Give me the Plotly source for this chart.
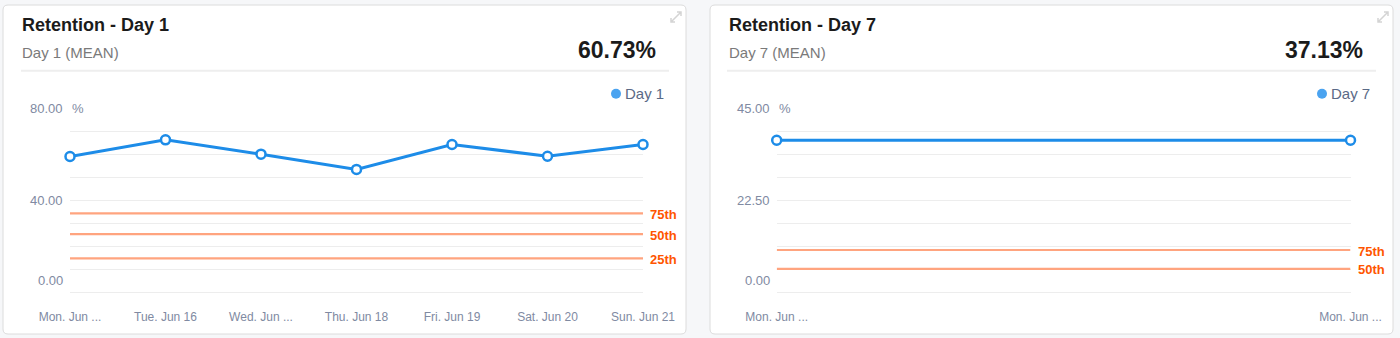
import plotly.graph_objects as go

# ---- data -------------------------------------------------------------
day1_labels = ["Mon. Jun ...", "Tue. Jun 16", "Wed. Jun ...", "Thu. Jun 18",
               "Fri. Jun 19", "Sat. Jun 20", "Sun. Jun 21"]
day1_values = [59.0, 66.2, 60.0, 53.4, 64.2, 59.1, 64.2]
day1_mean = "60.73%"
day1_pct_names = ["75th", "50th", "25th"]
day1_pct_values = [34.4, 25.4, 14.9]
day1_yticks = [0, 40, 80]
day1_yticktext = ["0.00", "40.00", "80.00"]

day7_labels = ["Mon. Jun ...", "Mon. Jun ..."]
day7_values = [37.13, 37.13]
day7_mean = "37.13%"
day7_pct_names = ["75th", "50th"]
day7_pct_values = [10.4, 5.8]
day7_yticks = [0, 22.5, 45]
day7_yticktext = ["0.00", "22.50", "45.00"]

W, H = 1400, 338
FONT = "Liberation Sans, Arial, Helvetica, sans-serif"
LINE_BLUE = "#1d8ce8"
DOT_BLUE = "#4aa3f0"
PCT_LINE = "#ffa47f"
PCT_TEXT = "#ff5500"
GRID = "#ededed"
TICK = "#808aa2"


def px(x):
    return x / W


def py(y):
    return 1 - y / H


def rounded_rect(x0, y0, x1, y1, r):
    X0, X1 = px(x0), px(x1)
    Y0, Y1 = py(y0), py(y1)
    rx, ry = r / W, r / H
    return (f"M{X0+rx},{Y0} L{X1-rx},{Y0} Q{X1},{Y0} {X1},{Y0-ry} "
            f"L{X1},{Y1+ry} Q{X1},{Y1} {X1-rx},{Y1} L{X0+rx},{Y1} "
            f"Q{X0},{Y1} {X0},{Y1+ry} L{X0},{Y0-ry} Q{X0},{Y0} {X0+rx},{Y0} Z")


fig = go.Figure()
shapes = []
annotations = []

panels = [
    dict(card=(3, 5, 686, 334), dom=(70, 643), title="Retention - Day 1",
         sub="Day 1 (MEAN)", mean=day1_mean, name="Day 1",
         labels=day1_labels, values=day1_values, pnames=day1_pct_names,
         pvals=day1_pct_values, yt=day1_yticks, ytt=day1_yticktext,
         ymax=80, dtick=10, sep=(21, 669), value_right=658, legend_right=666,
         icon=(676, 17), ax="x", ay="y"),
    dict(card=(710, 5, 1393, 334), dom=(776.7, 1350.5), title="Retention - Day 7",
         sub="Day 7 (MEAN)", mean=day7_mean, name="Day 7",
         labels=day7_labels, values=day7_values, pnames=day7_pct_names,
         pvals=day7_pct_values, yt=day7_yticks, ytt=day7_yticktext,
         ymax=45, dtick=5.625, sep=(727, 1376), value_right=1365, legend_right=1372,
         icon=(1383, 17), ax="x2", ay="y2"),
]

for i, p in enumerate(panels):
    sfx = "" if i == 0 else str(i + 1)
    xa, ya = p["ax"], p["ay"]
    n = len(p["values"])
    xs = list(range(n))

    # card background
    cx0, cy0, cx1, cy1 = p["card"]
    shapes.append(dict(type="path", xref="paper", yref="paper",
                       path=rounded_rect(cx0, cy0, cx1, cy1, 5),
                       fillcolor="white", line=dict(color="#dcdcdc", width=1),
                       layer="below"))
    # header separator
    shapes.append(dict(type="line", xref="paper", yref="paper",
                       x0=px(p["sep"][0]), x1=px(p["sep"][1]),
                       y0=py(70.7), y1=py(70.7),
                       line=dict(color="#eeeeee", width=2), layer="below"))
    # expand icon
    ix, iy = p["icon"]
    shapes.append(dict(type="path", xref="paper", yref="paper",
                       path=(f"M{px(ix-5)},{py(iy+5)} L{px(ix+5)},{py(iy-5)} "
                             f"M{px(ix-5)},{py(iy+1)} L{px(ix-5)},{py(iy+5)} L{px(ix-1)},{py(iy+5)} "
                             f"M{px(ix+1)},{py(iy-5)} L{px(ix+5)},{py(iy-5)} L{px(ix+5)},{py(iy-1)}"),
                       line=dict(color="#d4d4d4", width=1.5)))
    # legend dot
    lx = p["legend_right"] - 50
    shapes.append(dict(type="circle", xref="paper", yref="paper",
                       x0=px(lx - 5), x1=px(lx + 5), y0=py(98.7), y1=py(88.7),
                       fillcolor=DOT_BLUE, line=dict(width=0)))

    # percentile reference lines
    for nm, v in zip(p["pnames"], p["pvals"]):
        fig.add_trace(go.Scatter(x=[0, n - 1], y=[v, v], mode="lines",
                                 line=dict(color=PCT_LINE, width=2.2),
                                 hoverinfo="skip", showlegend=False,
                                 xaxis=xa, yaxis=ya))
        annotations.append(dict(xref=xa, yref=ya, x=n - 1, y=v, text=f"<b>{nm}</b>",
                                showarrow=False, xanchor="left", yanchor="middle",
                                xshift=5, yshift=-1,
                                font=dict(family=FONT, size=13, color=PCT_TEXT)))

    # main series
    fig.add_trace(go.Scatter(x=xs, y=p["values"], mode="lines+markers", name=p["name"],
                             line=dict(color=LINE_BLUE, width=3),
                             marker=dict(size=9, color="white", symbol="circle",
                                         line=dict(color=LINE_BLUE, width=2.5)),
                             cliponaxis=False, showlegend=False,
                             xaxis=xa, yaxis=ya))

    x0d, x1d = px(p["dom"][0]), px(p["dom"][1])
    fig.update_layout(**{
        f"xaxis{sfx}": dict(domain=[x0d, x1d], range=[0, n - 1], tickvals=xs,
                            ticktext=p["labels"], showgrid=False, zeroline=False,
                            showline=False, ticks="", ticklabelstandoff=15,
                            automargin=False,
                            tickfont=dict(family=FONT, size=12, color=TICK),
                            anchor=ya, fixedrange=True),
        f"yaxis{sfx}": dict(domain=[py(292.7), py(108)], range=[0, p["ymax"]],
                            dtick=p["dtick"], tick0=0, showgrid=True, gridcolor=GRID,
                            gridwidth=1, zeroline=True, zerolinecolor=GRID,
                            zerolinewidth=1, showticklabels=False, showline=False,
                            automargin=False, anchor=xa, fixedrange=True),
    })

    # y tick labels
    for v, t in zip(p["yt"], p["ytt"]):
        annotations.append(dict(xref=f"{xa} domain", yref=ya, x=0, y=v, text=t,
                                showarrow=False, xanchor="right", yanchor="middle",
                                xshift=-5, yshift=12 if v == 0 else 0,
                                font=dict(family=FONT, size=13, color=TICK)))
    annotations.append(dict(xref=f"{xa} domain", yref=ya, x=0, y=p["ymax"], text="%",
                            showarrow=False, xanchor="left", yanchor="middle",
                            xshift=0, font=dict(family=FONT, size=13, color=TICK)))

    # header texts
    annotations.append(dict(xref="paper", yref="paper", x=px(cx0 + 17), y=py(25),
                            text=f"<b>{p['title']}</b>", showarrow=False,
                            xanchor="left", yanchor="middle",
                            font=dict(family=FONT, size=18, color="#1b1b1b")))
    annotations.append(dict(xref="paper", yref="paper", x=px(cx0 + 17), y=py(52),
                            text=p["sub"], showarrow=False,
                            xanchor="left", yanchor="middle",
                            font=dict(family=FONT, size=15, color="#7a7a7a")))
    annotations.append(dict(xref="paper", yref="paper", x=px(p["value_right"]), y=py(50),
                            text=f"<b>{p['mean']}</b>", showarrow=False,
                            xanchor="right", yanchor="middle",
                            font=dict(family=FONT, size=23, color="#1b1b1b")))
    annotations.append(dict(xref="paper", yref="paper", x=px(p["legend_right"]), y=py(93.5),
                            text=p["name"], showarrow=False,
                            xanchor="right", yanchor="middle",
                            font=dict(family=FONT, size=15, color="#5a6a86")))

fig.update_layout(width=W, height=H, margin=dict(l=0, r=0, t=0, b=0),
                  paper_bgcolor="#f6f7f9", plot_bgcolor="rgba(0,0,0,0)",
                  showlegend=False, shapes=shapes, annotations=annotations,
                  hovermode=False)

fig.write_html("out.html", config={"displayModeBar": False})
